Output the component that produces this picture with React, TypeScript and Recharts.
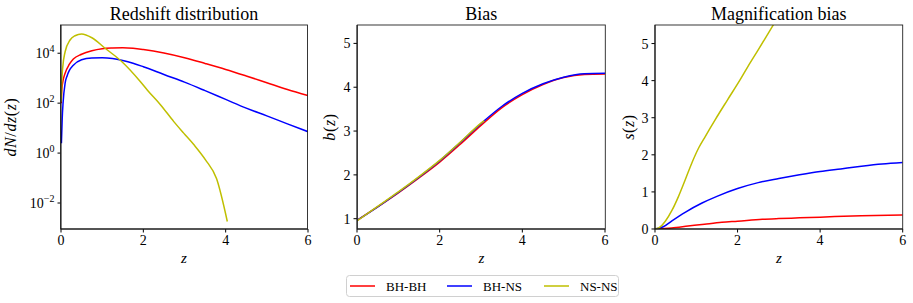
import { LineChart, Line, XAxis, YAxis } from "recharts";

const FONT = "'Liberation Serif', 'DejaVu Serif', serif";
const COLORS = { bhbh: "#ff0000", bhns: "#0000ff", nsns: "#bfbf00" };

const X_TICKS = [0, 2, 4, 6];
const LOG_TICKS = [1e-2, 1, 1e2, 1e4];
const BIAS_TICKS = [1, 2, 3, 4, 5];
const MAG_TICKS = [0, 1, 2, 3, 4, 5];

// dN/dz
const DNDZ_BHBH = [
  { z: 0.005, v: 100 }, { z: 0.02, v: 355 }, { z: 0.05, v: 794 }, { z: 0.1, v: 1585 },
  { z: 0.2, v: 3548 }, { z: 0.3, v: 5888 }, { z: 0.5, v: 9120 }, { z: 0.75, v: 12590 },
  { z: 1.0, v: 15140 }, { z: 1.25, v: 16220 }, { z: 1.5, v: 16600 }, { z: 1.75, v: 15850 },
  { z: 2.0, v: 14130 }, { z: 2.5, v: 10230 }, { z: 3.0, v: 6610 }, { z: 3.5, v: 3890 },
  { z: 4.0, v: 2240 }, { z: 4.5, v: 1230 }, { z: 5.0, v: 661 }, { z: 5.5, v: 355 },
  { z: 6.0, v: 200 },
];
const DNDZ_BHNS = [
  { z: 0.01, v: 2.5 }, { z: 0.03, v: 25.7 }, { z: 0.05, v: 100 }, { z: 0.1, v: 631 },
  { z: 0.15, v: 1259 }, { z: 0.2, v: 1995 }, { z: 0.3, v: 3311 }, { z: 0.5, v: 5495 },
  { z: 0.75, v: 6457 }, { z: 1.0, v: 6607 }, { z: 1.25, v: 6166 }, { z: 1.5, v: 5129 },
  { z: 1.75, v: 3981 }, { z: 2.0, v: 2884 }, { z: 2.25, v: 2042 }, { z: 2.5, v: 1413 },
  { z: 3.0, v: 692 }, { z: 3.5, v: 316 }, { z: 4.0, v: 141 }, { z: 4.5, v: 63 },
  { z: 5.0, v: 30.9 }, { z: 5.5, v: 14.8 }, { z: 6.0, v: 7.2 },
];
const DNDZ_NSNS = [
  { z: 0.005, v: 115 }, { z: 0.02, v: 794 }, { z: 0.04, v: 2512 }, { z: 0.1, v: 11480 },
  { z: 0.22, v: 33880 }, { z: 0.34, v: 50120 }, { z: 0.5, v: 58880 }, { z: 0.75, v: 41690 },
  { z: 1.07, v: 15850 }, { z: 1.48, v: 4571 }, { z: 1.93, v: 724 }, { z: 2.1, v: 331 },
  { z: 2.42, v: 85 }, { z: 2.74, v: 18.2 }, { z: 2.98, v: 6.3 }, { z: 3.23, v: 2.14 },
  { z: 3.51, v: 0.537 }, { z: 3.78, v: 0.0933 }, { z: 4.04, v: 0.00182 },
];

// b(z)
const BIAS_BHBH = [
  { z: 0, v: 0.96 }, { z: 0.5, v: 1.27 }, { z: 1, v: 1.59 }, { z: 1.5, v: 1.93 },
  { z: 2, v: 2.29 }, { z: 2.5, v: 2.7 }, { z: 3, v: 3.13 }, { z: 3.5, v: 3.53 },
  { z: 4, v: 3.83 }, { z: 4.5, v: 4.06 }, { z: 5, v: 4.22 }, { z: 5.5, v: 4.29 },
  { z: 6, v: 4.3 },
];
const BIAS_BHNS = [
  { z: 0, v: 0.96 }, { z: 0.5, v: 1.27 }, { z: 1, v: 1.6 }, { z: 1.5, v: 1.95 },
  { z: 2, v: 2.32 }, { z: 2.5, v: 2.74 }, { z: 3, v: 3.17 }, { z: 3.5, v: 3.56 },
  { z: 4, v: 3.86 }, { z: 4.5, v: 4.08 }, { z: 5, v: 4.23 }, { z: 5.5, v: 4.31 },
  { z: 6, v: 4.32 },
];
const BIAS_NSNS = [
  { z: 0, v: 0.95 }, { z: 0.5, v: 1.28 }, { z: 1, v: 1.61 }, { z: 1.5, v: 1.96 },
  { z: 2, v: 2.33 }, { z: 2.5, v: 2.75 }, { z: 3, v: 3.18 }, { z: 3.08, v: 3.24 },
];

// s(z)
const MAG_BHBH = [
  { z: 0, v: 0 }, { z: 0.4, v: 0.03 }, { z: 0.8, v: 0.08 }, { z: 1.2, v: 0.13 },
  { z: 1.62, v: 0.18 }, { z: 2, v: 0.21 }, { z: 2.6, v: 0.26 }, { z: 3, v: 0.28 },
  { z: 3.5, v: 0.3 }, { z: 4, v: 0.32 }, { z: 5, v: 0.36 }, { z: 6, v: 0.38 },
];
const MAG_BHNS = [
  { z: 0, v: 0 }, { z: 0.2, v: 0.06 }, { z: 0.41, v: 0.22 }, { z: 0.73, v: 0.45 },
  { z: 1.14, v: 0.7 }, { z: 1.5, v: 0.88 }, { z: 2, v: 1.09 }, { z: 2.5, v: 1.25 },
  { z: 3, v: 1.36 }, { z: 3.5, v: 1.46 }, { z: 4, v: 1.55 }, { z: 4.5, v: 1.62 },
  { z: 5, v: 1.69 }, { z: 5.5, v: 1.75 }, { z: 6, v: 1.79 },
];
const MAG_NSNS = [
  { z: 0, v: 0 }, { z: 0.09, v: 0.03 }, { z: 0.25, v: 0.21 }, { z: 0.41, v: 0.5 },
  { z: 0.57, v: 0.88 }, { z: 0.73, v: 1.32 }, { z: 0.9, v: 1.8 }, { z: 1.06, v: 2.19 },
  { z: 1.22, v: 2.5 }, { z: 1.46, v: 2.95 }, { z: 1.75, v: 3.47 }, { z: 2.06, v: 4.02 },
  { z: 2.25, v: 4.38 }, { z: 2.5, v: 4.83 }, { z: 2.75, v: 5.29 }, { z: 3.0, v: 5.75 },
];

const LEGEND = [
  { name: "BH-BH", color: COLORS.bhbh },
  { name: "BH-NS", color: COLORS.bhns },
  { name: "NS-NS", color: COLORS.nsns },
];

const TOP = 25;
const BOTTOM = 229;
const H = 303;

function LogTick({ x, y, payload }: any) {
  const e = Math.round(Math.log10(payload.value));
  return (
    <text x={x} y={y + 5} textAnchor="end" fontSize={14} fill="#000">
      10
      <tspan dy={-6} fontSize={10}>{e < 0 ? `\u2212${-e}` : e}</tspan>
    </text>
  );
}

type Series = { data: { z: number; v: number }[]; color: string };

function Panel({
  left,
  width,
  series,
  domain,
  ticks,
  log,
}: {
  left: number;
  width: number;
  series: Series[];
  domain: [number, number];
  ticks: number[];
  log?: boolean;
}) {
  const yw = 60;
  return (
    <div style={{ position: "absolute", left: left - yw, top: 0 }}>
      <LineChart width={yw + width + 4} height={H} margin={{ top: TOP, right: 4, left: 0, bottom: 0 }}>
        <XAxis
          dataKey="z"
          type="number"
          domain={[0, 6]}
          ticks={X_TICKS}
          height={H - BOTTOM}
          stroke="#000"
          tickSize={3.5}
          tickMargin={3}
          tick={{ fontSize: 14, fill: "#000" }}
          allowDataOverflow
        />
        <YAxis
          dataKey="v"
          type="number"
          scale={log ? "log" : "linear"}
          domain={domain}
          ticks={ticks}
          width={yw}
          stroke="#000"
          tickSize={3.5}
          tickMargin={3}
          tick={log ? <LogTick /> : { fontSize: 14, fill: "#000" }}
          allowDataOverflow
        />
        {series.map((s, i) => (
          <Line
            key={i}
            data={s.data}
            dataKey="v"
            type="monotone"
            stroke={s.color}
            strokeWidth={1.5}
            dot={false}
            activeDot={false}
            isAnimationActive={false}
          />
        ))}
      </LineChart>
    </div>
  );
}

const PANELS = [
  { left: 60.5, width: 247, title: "Redshift distribution" },
  { left: 357.3, width: 248, title: "Bias" },
  { left: 655, width: 247.7, title: "Magnification bias" },
];

export default function App() {
  const mid = (p: { left: number; width: number }) => p.left + p.width / 2;
  const yMid = (TOP + BOTTOM) / 2;
  return (
    <div style={{ position: "absolute", left: 0, top: 0, width: 913, height: H, background: "#fff", fontFamily: FONT }}>
      <Panel
        left={PANELS[0].left}
        width={PANELS[0].width}
        log
        domain={[9.1e-4, 1.35e5]}
        ticks={LOG_TICKS}
        series={[
          { data: DNDZ_BHBH, color: COLORS.bhbh },
          { data: DNDZ_BHNS, color: COLORS.bhns },
          { data: DNDZ_NSNS, color: COLORS.nsns },
        ]}
      />
      <Panel
        left={PANELS[1].left}
        width={PANELS[1].width}
        domain={[0.765, 5.42]}
        ticks={BIAS_TICKS}
        series={[
          { data: BIAS_BHBH, color: COLORS.bhbh },
          { data: BIAS_BHNS, color: COLORS.bhns },
          { data: BIAS_NSNS, color: COLORS.nsns },
        ]}
      />
      <Panel
        left={PANELS[2].left}
        width={PANELS[2].width}
        domain={[0, 5.5]}
        ticks={MAG_TICKS}
        series={[
          { data: MAG_BHBH, color: COLORS.bhbh },
          { data: MAG_BHNS, color: COLORS.bhns },
          { data: MAG_NSNS, color: COLORS.nsns },
        ]}
      />
      <svg width={913} height={H} style={{ position: "absolute", left: 0, top: 0, pointerEvents: "none" }} fontFamily={FONT}>
        {PANELS.map((p, i) => (
          <g key={i}>
            <rect x={p.left} y={TOP} width={p.width} height={BOTTOM - TOP} fill="none" stroke="#222" strokeWidth={0.9} />
            <text x={mid(p)} y={19.5} textAnchor="middle" fontSize={18} fill="#000">{p.title}</text>
            <text x={mid(p)} y={263} textAnchor="middle" fontSize={15} fontStyle="italic" fill="#000">z</text>
          </g>
        ))}
        <text transform={`translate(16,${yMid}) rotate(-90)`} textAnchor="middle" fontSize={16} fill="#000" letterSpacing={0.6}>
          <tspan fontStyle="italic">dN</tspan>/<tspan fontStyle="italic">dz</tspan>(<tspan fontStyle="italic">z</tspan>)
        </text>
        <text transform={`translate(335,${yMid}) rotate(-90)`} textAnchor="middle" fontSize={16} fill="#000" letterSpacing={0.6}>
          <tspan fontStyle="italic">b</tspan>(<tspan fontStyle="italic">z</tspan>)
        </text>
        <text transform={`translate(634,${yMid}) rotate(-90)`} textAnchor="middle" fontSize={16} fill="#000" letterSpacing={0.6}>
          <tspan fontStyle="italic">s</tspan>(<tspan fontStyle="italic">z</tspan>)
        </text>
        <rect x={346.5} y={275.5} width={272} height={21} rx={3} fill="#fff" stroke="#d0d0d0" />
        {LEGEND.map((l, i) => {
          const x0 = 350 + i * 97;
          return (
            <g key={l.name}>
              <line x1={x0} x2={x0 + 25} y1={286} y2={286} stroke={l.color} strokeWidth={1.5} />
              <text x={x0 + 36} y={290.5} fontSize={13} fill="#000">{l.name}</text>
            </g>
          );
        })}
      </svg>
    </div>
  );
}
